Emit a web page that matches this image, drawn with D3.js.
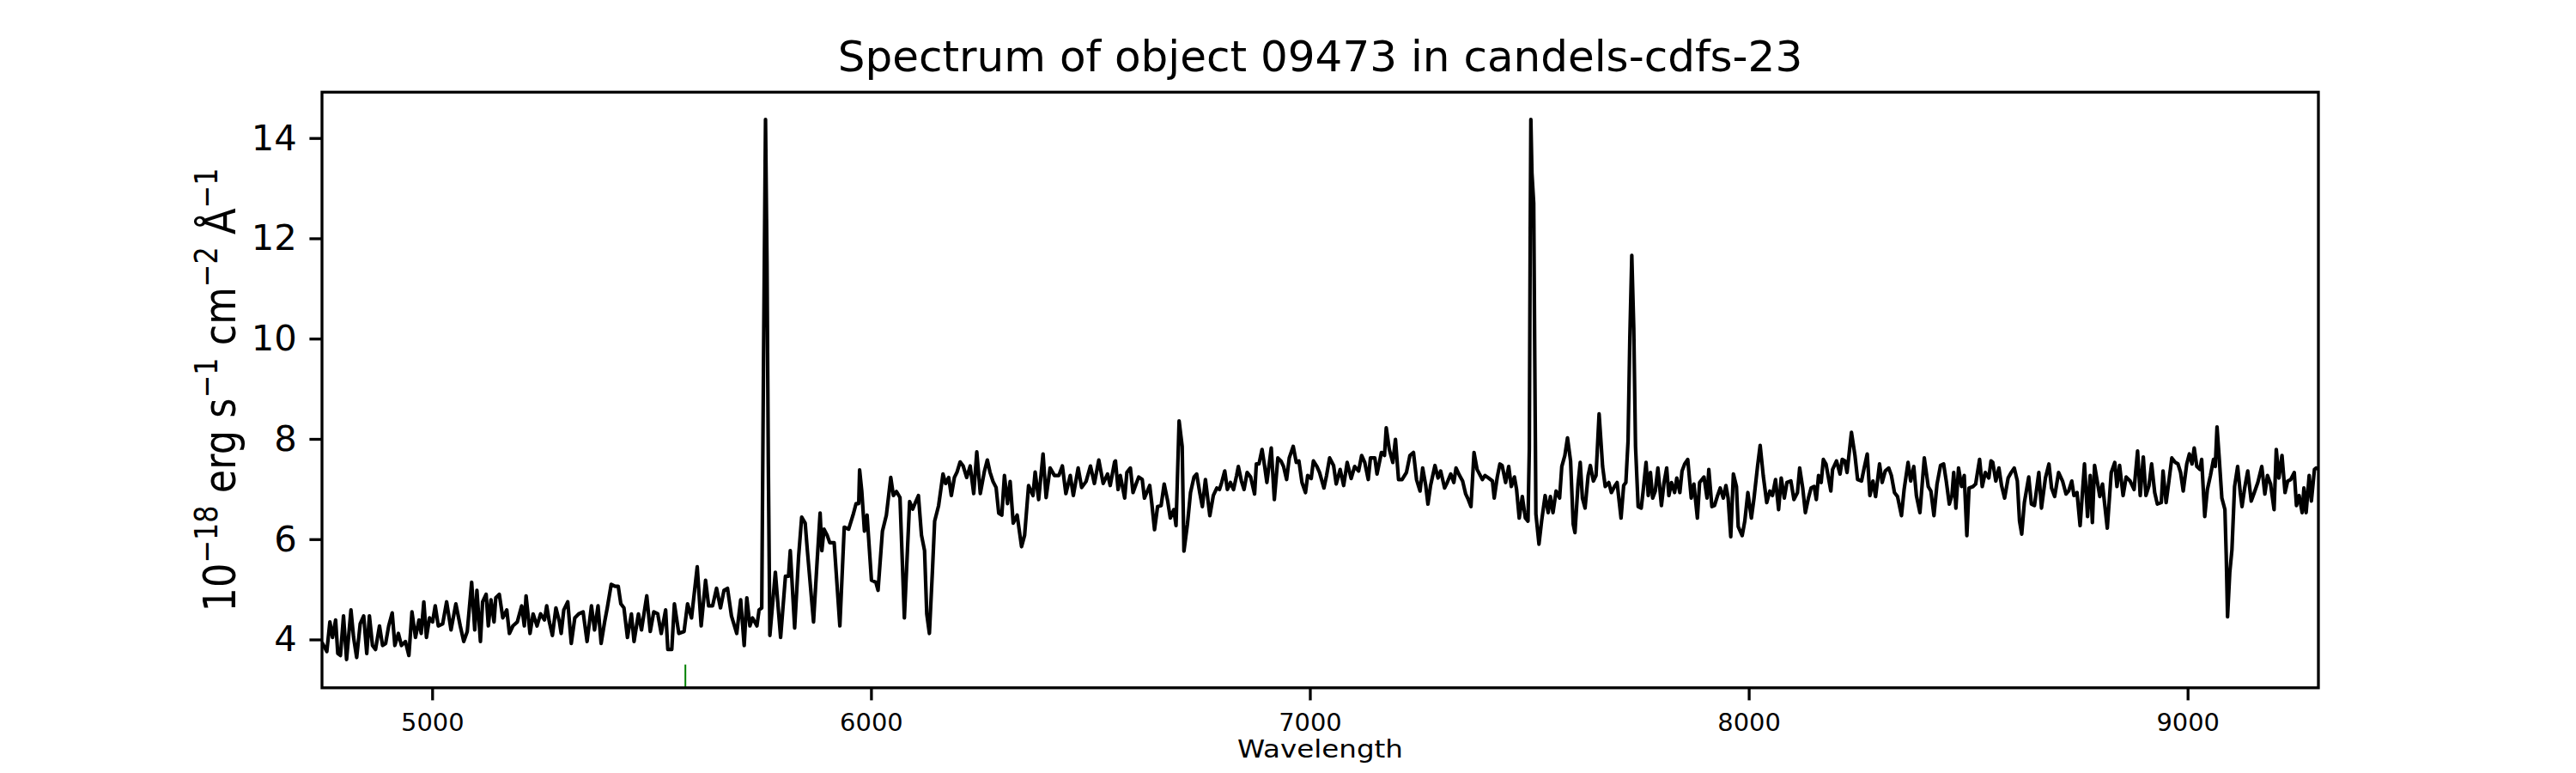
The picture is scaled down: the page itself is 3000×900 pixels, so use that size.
<!DOCTYPE html>
<html><head><meta charset="utf-8">
<script src="https://cdn.jsdelivr.net/npm/d3@7"></script>
<style>html,body{margin:0;padding:0;background:#fff;} svg{display:block;font-family:"DejaVu Sans";}</style>
</head><body>
<svg id="chart" width="3000" height="900"></svg>
<script>
const wavelength = [
4749,4760,4767,4773,4780,4785,4791,4798,4805,4815,
4821,4828,4836,4844,4851,4857,4864,4871,4880,4887,
4894,4901,4909,4915,4923,4930,4939,4947,4954,4962,
4970,4975,4981,4987,4994,5001,5007,5014,5024,5033,
5043,5054,5064,5072,5080,5090,5097,5102,5110,5115,
5123,5128,5134,5141,5145,5153,5161,5170,5176,5184,
5194,5204,5210,5214,5223,5230,5239,5247,5256,5261,
5267,5274,5282,5290,5294,5300,5309,5317,5325,5334,
5344,5353,5363,5370,5378,5385,5393,5399,5408,5417,
5424,5430,5437,5445,5454,5460,5470,5477,5489,5497,
5505,5514,5522,5532,5537,5546,5552,5562,5574,5582,
5591,5604,5613,5623,5630,5639,5648,5657,5665,5673,
5682,5694,
5703,5711,5717,5724,5730,5740,5745,5751,5755,5759.6,
5763,5766,5769.5,5782,5794,5805,5812,5816,5826,5835,
5842,5850,5855,5862,5869,5877,5884,5888,5893,5900,
5906,5916,5929,5939,5949,5959,5966,5972,5974,5979,
5985,5991,6001,6011,6016,6026,6035,6045,6051,6058,
6066,6076,6088,6095,6102,6108,6115,6122,6127,6133,
6140,6145,6154,6164,6170,6177,6183,6190,6196,6203,
6210,6218,6226,6234,6241,6249,6258,6265,6271,6278,
6285,6291,6298,6304,6311,6317,6324,6333,6343,6350,
6359,6369,6374,6382,6392,6399,6408,6418,6428,6436,
6444,6454,6461,6472,6480,6490,6500,6509,6519,6529,
6539,6545,6555,
6557,6563,6568,6578,6583,6591,6597,6604,6610,6618,
6623,6635,6640,6646,6653,6661,6668,6676,6682,6690,
6695,6702,6709,6713,6721,6728,6736,6742,6749,6755,
6762,6772,6780,6788,6794,6799,6806,6812,6819,6826,
6833,6837,6844,6850,6857,6865,6874,6878,6884,6891,
6897,6902,6912,6919,6927,6934,6940,6947,6953,6962,
6969,6975,6982,6990,6995,7003,7008,7016,7022,7032,
7038,7045,7054,7060,7069,7077,7085,7094,7102,7111,
7118,7125,7133,7138,7148,7153,7163,7170,7174,7181,
7189,7195,7202,7210,7220,
7228,7236,7243,7251,7257,7264,7269,7275,7285,7292,
7298,7307,7313,7321,7328,7333,7341,7348,7355,7361,
7367,7374,7381,7393,7399,7407,7416,7420,7427,7433,
7438,7446,7453,7459,7466,7471,7477,7484,7491,7497,
7500,7502,7503.5,7506,7510,7512.5,7515,7522,7528,7536,
7543,7548,7554,7561,7569,7574,7581,7587,7594,7600,
7604,7611,7616,7621,7627,7634,7639,7646,7652,7659,
7667,7673,7681,7687,7694,7700,7709,7715,7720,7725,
7729,7733.5,7738,7742,7748,7755,7759,7766,7771,7776,
7781,7787,7793,7801,7807,7813,7818,7824,7831,7836,
7843,7848,7854,7861,7869,7875,7883,7888,
7898,7905,7909,7916,7922,7929,7935,7942,7948,7953,
7959,7965,7972,7976,7985,7991,7998,8006,8012,8020,
8026,8033,8041,8048,8054,8061,8068,8074,8081,8087,
8096,8103,8111,8116,8123,8129,8136,8142,8149,8154,
8159,8165,8170,8176,8187,8191,8200,8208,8213,8219,
8224,8234,8242,8248,8257,8263,8270,8276,8283,8289,
8298,8304,8311,8319,8325,8332,8339,8348,8354,8363,
8369,8376,8382,8390,8400,8409,8415,8422,8429,8437,
8444,8450,8457,8463,8467,8472,8478,8485,8491,8497,
8502,8511,8517,8526,8532,8539,8547,8552,
8556,8563,8570,8576,8583,8591,8598,8605,8612,8617,
8622,8628,8638,8644,8651,8661,8667,8676,8684,8690,
8697,8706,8715,8723,8729,8736,8741,8748,8755,8765,
8772,8778,8783,8788,8794,8800,8806,8817,8826,8834,
8839,8845,8853,8860,8869,8878,8886,8892,8899,8905,
8912,8918,8925,8931,8940,8944,8951,8957,8964,8972,
8978,8984,8990,8998,9004,9010,9015,9021,9028,9032,
9039,9045,9052,9059,9063,9067,9072,9078,9085,9088,
9091,9096,9101,9107,9114,9120,9124,9130,9137,9145,
9152,9160,9169,9176,9182,9189,9197,9202,9208,9215,
9222,9228,9235,9243,9248,9254,9261,9265,9270,9277,
9282,9289,9293,9298
];
const flux = [
3.94,3.76,4.35,4.04,4.39,3.72,3.68,4.47,3.60,4.59,
4.04,3.64,4.31,4.47,3.72,4.47,3.88,3.80,4.27,3.88,
3.92,4.27,4.53,3.88,4.12,3.88,3.96,3.68,4.55,4.04,
4.39,4.12,4.75,4.04,4.43,4.35,4.67,4.27,4.31,4.75,
4.19,4.71,4.27,3.96,4.16,5.14,4.19,4.98,3.96,4.75,
4.90,4.27,4.79,4.35,4.83,4.90,4.43,4.59,4.12,4.27,
4.35,4.67,4.27,4.87,4.12,4.51,4.27,4.51,4.39,4.67,
4.35,4.08,4.63,4.35,4.12,4.59,4.75,3.92,4.43,4.51,
4.55,3.96,4.67,4.19,4.67,3.92,4.35,4.63,5.10,5.06,
5.06,4.71,4.63,4.04,4.51,3.96,4.51,4.19,4.87,4.16,
4.55,4.51,4.12,4.59,3.80,3.80,4.71,4.12,4.16,4.71,
4.43,5.45,4.27,5.18,4.67,4.67,5.02,4.63,4.98,5.02,
4.47,4.12,
4.79,3.88,4.83,4.27,4.43,4.27,4.59,4.63,9.5,14.37,
11.5,7.5,4.08,5.34,4.04,5.26,5.26,5.77,4.23,5.65,
6.44,6.32,5.77,5.06,4.35,5.53,6.52,5.77,6.20,6.08,
5.93,5.93,4.27,6.24,6.20,6.48,6.71,6.71,7.38,6.95,
6.16,6.48,5.18,5.14,4.98,6.16,6.48,7.23,6.87,6.95,
6.83,4.43,6.75,6.60,6.75,6.87,6.08,5.77,4.51,4.12,
5.38,6.36,6.67,7.30,7.11,7.23,6.87,7.23,7.34,7.54,
7.46,7.23,7.46,6.91,7.74,6.91,7.34,7.58,7.34,7.15,
7.03,6.52,6.48,7.27,6.71,7.15,6.32,6.48,5.85,6.08,
7.07,6.87,7.34,6.79,7.70,6.83,7.42,7.27,7.27,7.46,
6.91,7.27,6.87,7.42,7.03,7.15,7.46,7.11,7.58,7.11,
7.30,7.07,7.54,
7.56,6.99,7.27,6.82,7.33,7.42,6.93,7.10,7.24,7.19,
6.82,7.07,6.70,6.19,6.65,6.67,7.10,6.76,6.42,6.59,
6.27,8.36,7.85,5.76,6.30,6.93,7.24,7.30,6.93,6.65,
7.19,6.47,6.87,7.02,6.99,7.13,7.36,6.99,7.13,6.99,
7.27,7.45,7.16,6.99,7.33,7.24,6.90,7.50,7.50,7.79,
7.45,7.13,7.82,6.79,7.62,7.56,7.45,7.19,7.62,7.85,
7.53,7.56,7.13,6.93,7.27,7.21,7.56,7.45,7.33,7.02,
7.27,7.62,7.47,7.10,7.39,7.07,7.53,7.21,7.45,7.36,
7.67,7.53,7.19,7.62,7.62,7.30,7.73,7.67,8.22,7.79,
7.53,7.99,7.19,7.19,7.33,
7.67,7.73,7.19,6.96,7.42,7.07,6.70,7.07,7.47,7.22,
7.36,7.02,7.13,7.30,7.13,7.42,7.27,7.16,6.90,6.79,
6.65,7.73,7.39,7.19,7.27,7.22,7.16,6.82,7.24,7.50,
7.47,7.13,7.45,7.05,7.24,6.99,6.42,6.85,6.42,6.36,
7.8,12.0,14.37,13.3,12.7,9.5,6.5,5.90,6.36,6.87,
6.53,6.85,6.53,6.96,6.82,7.45,7.67,8.02,7.56,6.30,
6.13,7.10,7.53,6.82,6.62,7.27,7.47,7.16,7.27,8.50,
7.45,7.05,7.13,6.93,7.05,7.13,6.42,7.07,7.13,7.96,
10.0,11.66,10.2,7.85,6.65,6.62,6.93,7.53,6.87,7.33,
6.82,6.96,7.42,6.67,7.13,7.42,6.87,7.13,6.93,7.22,
6.93,7.36,7.50,7.59,6.82,7.10,6.42,7.13,
7.24,6.82,7.39,6.65,6.67,6.87,7.02,6.82,7.07,6.82,
6.05,7.30,7.05,6.25,6.07,6.36,6.93,6.42,6.82,7.45,
7.87,7.27,6.73,6.96,6.87,7.19,6.59,7.22,6.82,7.13,
7.16,6.79,6.93,7.42,7.02,6.53,6.82,7.02,7.05,6.79,
7.27,7.13,7.59,7.50,6.96,7.39,7.56,7.30,7.59,7.56,
7.33,8.13,7.67,7.19,7.16,7.42,7.70,6.87,7.16,6.85,
7.50,7.13,7.36,7.42,7.27,6.93,6.85,6.47,6.99,7.53,
7.16,7.45,6.87,6.53,7.62,7.05,6.96,6.47,7.10,7.47,
7.50,7.16,6.70,6.87,7.33,6.62,7.42,7.05,7.27,6.07,
7.02,7.05,7.10,7.59,7.05,7.33,7.22,7.56,
7.53,7.16,7.42,7.07,6.82,7.22,7.33,7.42,7.16,6.36,
6.10,6.73,7.24,6.70,6.67,7.33,6.62,7.22,7.50,7.02,
6.85,7.33,7.16,6.90,6.96,7.16,6.87,6.93,6.27,7.50,
6.45,7.27,6.33,7.47,7.16,6.85,7.10,6.22,7.33,7.53,
7.05,7.47,6.87,7.24,7.16,6.99,7.76,6.87,7.64,6.87,
7.07,7.50,6.93,6.70,6.73,7.36,6.73,7.13,7.62,7.53,
7.50,7.33,6.96,7.50,7.70,7.50,7.82,7.45,7.39,7.59,
6.45,6.99,7.27,7.59,7.45,8.24,7.62,6.82,6.59,5.67,
4.45,5.33,5.79,7.05,7.45,6.93,6.65,7.02,7.36,6.76,
6.93,7.13,7.45,6.90,7.27,7.10,6.59,7.79,7.22,7.67,
6.93,7.16,7.19,7.33,6.67,6.87,6.53,7.02,6.53,7.27,
6.76,7.39,7.42,7.40
];
const xTicks = [5000, 6000, 7000, 8000, 9000];
const yTicks = [4, 6, 8, 10, 12, 14];
const skyLineWave = [5577];
const skyLineTop = [3.5];
const xDomain = [4749, 9298];
const yDomain = [3.036, 14.915];
const titleText = "Spectrum of object 09473 in candels-cdfs-23";
const xLabelText = "Wavelength";

const svg = d3.select("#chart");
const box = {left: 375, right: 2700, top: 107.3, bottom: 800.8};
const x = d3.scaleLinear().domain(xDomain).range([box.left, box.right]);
const y = d3.scaleLinear().domain(yDomain).range([box.bottom, box.top]);

const n = Math.min(wavelength.length, flux.length);
if (wavelength.length !== flux.length) console.error("length mismatch", wavelength.length, flux.length);
const pts = d3.range(n).map(i => [wavelength[i], flux[i]]);

svg.append("defs").append("clipPath").attr("id", "clip")
  .append("rect").attr("x", box.left).attr("y", box.top)
  .attr("width", box.right - box.left).attr("height", box.bottom - box.top);

// sky line
svg.append("g").selectAll("line").data(skyLineWave).join("line")
  .attr("x1", d => x(d)).attr("x2", d => x(d))
  .attr("y1", y(yDomain[0])).attr("y2", (d, i) => y(skyLineTop[i]))
  .attr("stroke", "#008000").attr("stroke-width", 2);

// spectrum
svg.append("path").datum(pts)
  .attr("clip-path", "url(#clip)")
  .attr("fill", "none").attr("stroke", "#000").attr("stroke-width", 4.2)
  .attr("stroke-linejoin", "round").attr("stroke-linecap", "butt")
  .attr("d", d3.line().x(d => x(d[0])).y(d => y(d[1])));

// axes
const xAxis = svg.append("g").attr("transform", `translate(0,${box.bottom})`)
  .call(d3.axisBottom(x).tickValues(xTicks).tickFormat(d3.format("d")).tickSize(14.6).tickPadding(14.6).tickSizeOuter(0));
xAxis.select(".domain").remove();
xAxis.selectAll(".tick line").attr("stroke", "#000").attr("stroke-width", 3.3);
xAxis.selectAll(".tick text").attr("fill", "#000").style("font-size", "28.9px").style("font-family", "DejaVu Sans");

const yAxis = svg.append("g").attr("transform", `translate(${box.left},0)`)
  .call(d3.axisLeft(y).tickValues(yTicks).tickFormat(d3.format("d")).tickSize(14.6).tickPadding(14.6).tickSizeOuter(0));
yAxis.select(".domain").remove();
yAxis.selectAll(".tick line").attr("stroke", "#000").attr("stroke-width", 3.3);
yAxis.selectAll(".tick text").attr("fill", "#000").style("font-size", "41.7px").style("font-family", "DejaVu Sans");

// frame
svg.append("rect").attr("x", box.left).attr("y", box.top)
  .attr("width", box.right - box.left).attr("height", box.bottom - box.top)
  .attr("fill", "none").attr("stroke", "#000").attr("stroke-width", 3.3);

// title
svg.append("text").attr("x", (box.left + box.right) / 2).attr("y", 83.3)
  .attr("text-anchor", "middle").style("font-size", "50px").attr("fill", "#000")
  .text(titleText);

// x label
const xl = svg.append("text").attr("text-anchor", "middle").style("font-size", "28px").attr("fill", "#000")
  .text(xLabelText);
{
  const w = xl.node().getComputedTextLength();
  const sx = 193 / w;
  xl.attr("transform", `translate(${(box.left + box.right) / 2},881.5) scale(${sx},1)`);
}

// y label with superscripts
const yl = svg.append("text").attr("text-anchor", "middle").style("font-size", "52px").attr("fill", "#000");
const parts = [["10", 0], ["\u221218", 1], [" erg s", 0], ["\u22121", 1], [" cm", 0], ["\u22122", 1], [" \u00c5", 0], ["\u22121", 1]];
let raised = false;
parts.forEach(([t, sup]) => {
  const ts = yl.append("tspan").text(t);
  if (sup) { ts.style("font-size", "37px").attr("dy", raised ? 0 : -21); raised = true; }
  else { ts.attr("dy", raised ? 21 : 0); raised = false; }
});
{
  const w = yl.node().getComputedTextLength();
  const s = 517 / w;
  yl.attr("transform", `translate(274,${(box.top + box.bottom) / 2}) rotate(-90) scale(${s},1)`);
}
</script>
</body></html>
